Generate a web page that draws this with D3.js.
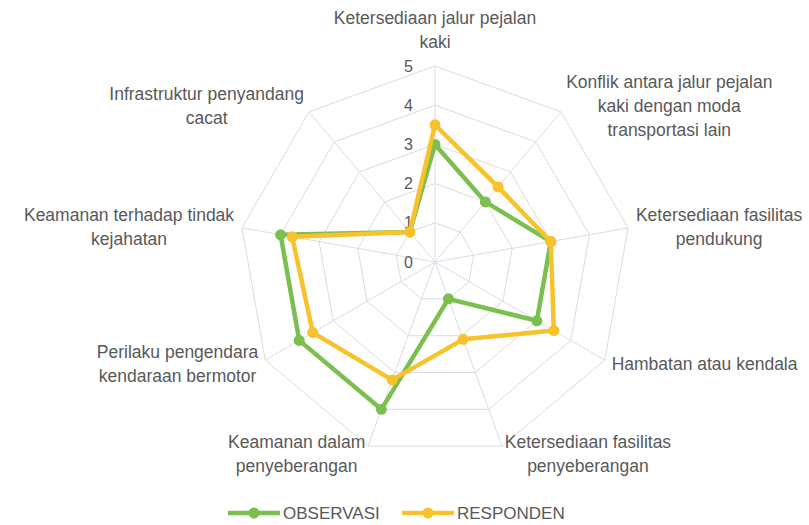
<!DOCTYPE html>
<html>
<head>
<meta charset="utf-8">
<script src="https://cdn.jsdelivr.net/npm/d3@7"></script>
<style>
  body { margin: 0; background: #fff; }
  svg { display: block; font-family: "Liberation Sans", Arial, sans-serif; }
</style>
</head>
<body>
<svg id="chart" width="809" height="525"></svg>
<script>
// axis names, one entry per line of the label
const axisLabels = [
  ["Ketersediaan jalur pejalan", "kaki"],
  ["Konflik antara jalur pejalan", "kaki dengan moda", "transportasi lain"],
  ["Ketersediaan fasilitas", "pendukung"],
  ["Hambatan atau kendala"],
  ["Ketersediaan fasilitas", "penyeberangan"],
  ["Keamanan dalam", "penyeberangan"],
  ["Perilaku pengendara", "kendaraan bermotor"],
  ["Keamanan terhadap tindak", "kejahatan"],
  ["Infrastruktur penyandang", "cacat"]
];
const observasi = [3, 2, 3, 3, 1, 4, 4, 4, 1];
const responden = [3.5, 2.5, 3, 3.5, 2.1, 3.2, 3.6, 3.7, 1];
const ticks = [0, 1, 2, 3, 4, 5];
const seriesNames = ["OBSERVASI", "RESPONDEN"];
const seriesColors = ["#7bbf4f", "#f8c22c"];

const svg = d3.select("#chart");
const cx = 435, cy = 262;
const r = d3.scaleLinear().domain([0, 5]).range([0, 196]);
const n = axisLabels.length;
const angle = i => i * 2 * Math.PI / n;
const textColor = "#595959";

const g = svg.append("g").attr("transform", `translate(${cx},${cy})`);

// grid polygons
const radial = d3.lineRadial()
  .angle((d, i) => angle(i))
  .radius(d => r(d))
  .curve(d3.curveLinearClosed);

ticks.slice(1).forEach(t => {
  g.append("path")
    .attr("d", radial(d3.range(n).map(() => t)))
    .attr("fill", "none")
    .attr("stroke", "#dcdcdc")
    .attr("stroke-width", 1);
});

// spokes
g.selectAll("line.spoke")
  .data(d3.range(n))
  .enter()
  .append("line")
  .attr("class", "spoke")
  .attr("x1", 0).attr("y1", 0)
  .attr("x2", i => r(5) * Math.sin(angle(i)))
  .attr("y2", i => -r(5) * Math.cos(angle(i)))
  .attr("stroke", "#dadde6")
  .attr("stroke-width", 1);

// tick labels
g.selectAll("text.tick")
  .data(ticks)
  .enter()
  .append("text")
  .attr("class", "tick")
  .attr("x", -22)
  .attr("y", d => -r(d))
  .attr("dy", "0.35em")
  .attr("text-anchor", "end")
  .attr("fill", textColor)
  .style("font-size", "16px")
  .text(d => d);

// series
[observasi, responden].forEach((vals, s) => {
  const color = seriesColors[s];
  g.append("path")
    .attr("d", radial(vals))
    .attr("fill", "none")
    .attr("stroke", color)
    .attr("stroke-width", 4.5)
    .attr("stroke-linejoin", "round");
  g.selectAll("circle.s" + s)
    .data(vals)
    .enter()
    .append("circle")
    .attr("class", "s" + s)
    .attr("cx", (d, i) => r(d) * Math.sin(angle(i)))
    .attr("cy", (d, i) => -r(d) * Math.cos(angle(i)))
    .attr("r", 5.5)
    .attr("fill", color);
});

// axis labels
const lineH = 24;
axisLabels.forEach((lines, i) => {
  const a = angle(i);
  const sx = Math.sin(a), cz = Math.cos(a);
  const ax = (r(5) + 8) * sx;
  const ay = -(r(5) + 8) * cz;
  const t = g.append("text")
    .attr("fill", textColor)
    .style("font-size", "17.5px")
    .attr("text-anchor", "middle");
  const spans = t.selectAll("tspan")
    .data(lines)
    .enter()
    .append("tspan")
    .attr("dy", "0.35em")
    .text(d => d);
  const w = d3.max(spans.nodes(), nd => nd.getComputedTextLength());
  const h = lines.length * lineH;
  let bx, by;
  if (Math.abs(sx) < 0.1) {
    bx = ax;
    by = ay - h / 2 - 4;
  } else {
    bx = sx > 0 ? ax + w / 2 : ax - w / 2;
    by = ay;
  }
  spans
    .attr("x", bx)
    .attr("y", (d, k) => by + (k - (lines.length - 1) / 2) * lineH);
});

// legend
const legend = svg.append("g").attr("transform", "translate(228,513)");
const legendX = [0, 174];
seriesNames.forEach((name, s) => {
  const item = legend.append("g").attr("transform", `translate(${legendX[s]},0)`);
  item.append("line")
    .attr("x1", 0).attr("x2", 52)
    .attr("y1", 0).attr("y2", 0)
    .attr("stroke", seriesColors[s])
    .attr("stroke-width", 4.5);
  item.append("circle")
    .attr("cx", 26).attr("cy", 0).attr("r", 5.5)
    .attr("fill", seriesColors[s]);
  item.append("text")
    .attr("x", 55)
    .attr("dy", "0.35em")
    .attr("fill", textColor)
    .style("font-size", "17px")
    .text(name);
});
</script>
</body>
</html>
